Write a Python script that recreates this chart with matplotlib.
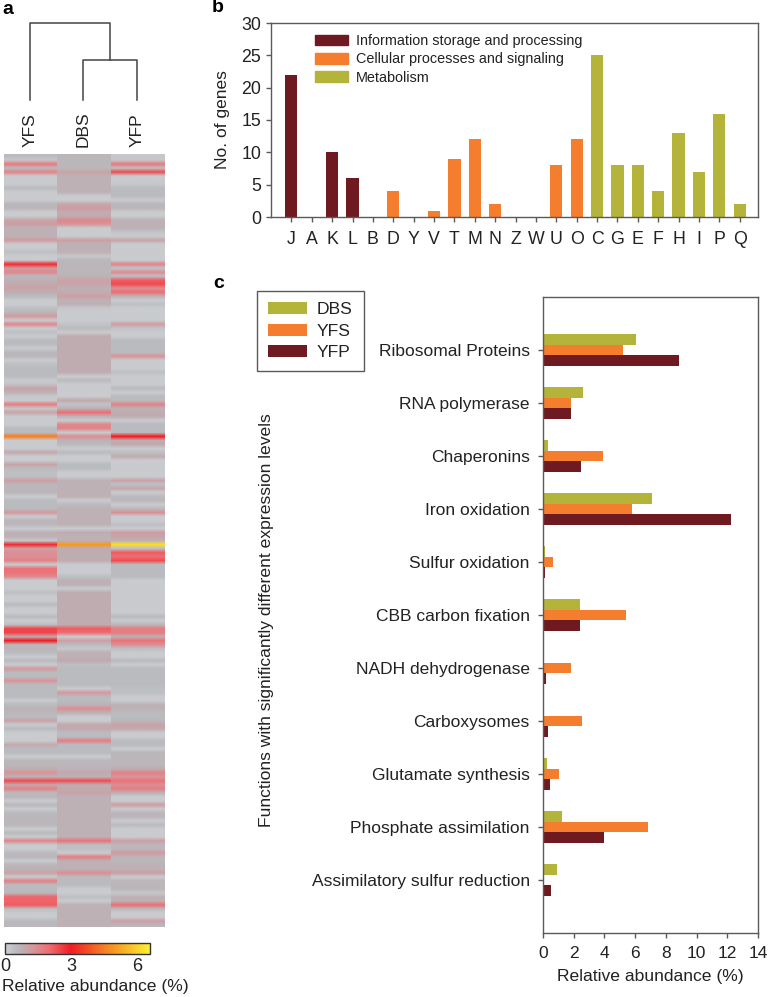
"""Three panels: expression heatmap with dendrogram, COG counts, functional abundance bars."""

import numpy as np
import matplotlib
matplotlib.use("Agg")
import matplotlib.pyplot as plt
from matplotlib.colors import LinearSegmentedColormap
from matplotlib.patches import Patch

plt.rcParams["font.family"] = ["Liberation Sans", "DejaVu Sans"]

W, H = 768, 997
DARK = "#6f1a20"
ORANGE = "#f57e2e"
OLIVE = "#b4b43a"
EDGE = "#5a5a5a"
TEXT = "#222222"

# panel a: one value per heatmap row, top to bottom
heat_samples = ["YFS", "DBS", "YFP"]
heat_yfs = [
    .5, .2, 1.8, .5, 1.6, .1, .1, .1, .5, .1, .1, .1, .6, .6, .1, .1, 1.0, 1.1, .7, .7, .7, 1.2,
    .1, .1, .4, .1, .1, 2.8, 1.2, 1.5, .6, .7, .9, 1.0, .8, .5, .1, .1, .4, .6, 1.2, .1, 1.5, .1,
    .4, .1, .5, .5, .1, .6, .6, .1, .4, .5, .5, .5, .1, .3, 1.0, .7, .2, .1, 1.7, .2, 1.0, .1,
    .1, .1, .5, .5, 4.5, .1, .1, .1, .9, .1, .1, 1.0, .5, .4, .4, 1.1, .6, .6, .6, .1, .5, .5,
    .5, 1.2, .1, .6, .6, .1, .7, .7, .2, 2.8, 1.1, 1.4, 1.4, 1.6, .1, 1.9, 1.9, 1.5, .1, .1, .1,
    .4, .1, .1, .5, .1, .1, .5, .1, .4, 2.5, 2.5, .9, 3.0, .6, .6, .5, .1,
    .5, .1, 1.2, .5, .5, 1.3, .5, .5, .5, .5, .1, .5, .7, .6, .5, 1.0, .1, .5, .1, .1, .1, .9,
    .5, .5, .1, .6, .6, .8, 1.3, .7, 2.4, .9, 1.6, .5, .6, .1, .6, .1, .5, .6, .6, .6, .1, .5,
    .1, 1.6, .1, .1, .5, .6, .1, .6, .7, 1.0, .1, 1.7, .5, .5, .6, 2.1, 2.1, 2.2, .4, .1, .1,
    .5, .6,
]
heat_dbs = [
    .6, .6, .6, .6, 1.0, .7, .7, .7, .7, .7, .1, .1, .9, 1.2, .8, .8, 1.5, 1.3, .1, .1, .1, 1.1,
    .7, .7, .7, .2, .6, .6, .6, .6, .7, 1.0, 1.0, .7, .8, 1.1, .7, .7, .2, .1, .1, .1, .3, .5,
    .1, .8, .8, .8, .8, .8, .8, .8, .8, .8, .8, .1, .5, .1, .1, .1, .1, .9, .3, .7, 2.0, .7,
    .1, 1.5, 1.6, .1, 1.4, .7, .5, .1, .5, .1, .1, .5, .5, .1, .1, .7, .7, .7, .7, .7, .1, .5,
    .7, .7, .7, .7, .7, .1, .8, .7, .7, 5.0, .8, .8, .8, .8, .1, .1, .1, .4, .7, .7, .1, .8, .8,
    .8, .8, .8, .8, .8, .8, .8, 2.2, 2.0, .1, 1.1, .5, .2, .7, .7,
    .9, .4, .5, .5, .5, .5, .5, .1, 1.2, .5, .5, .7, 1.4, .7, .1, .1, .9, .9, .5, .5, 1.7, .5,
    .5, .5, .1, .6, .6, .7, .9, .7, 2.4, .8, .9, 1.0, .7, .7, .7, .7, .7, .7, .7, .7, .7, .7,
    .7, 1.9, .4, .4, .1, 1.7, .7, .7, .7, 1.4, .5, .5, .5, .1, .1, .4, .1, .7, .7, .7, .7, .7,
    .7,
]
heat_yfp = [
    .2, .2, 1.8, .4, 2.4, .1, .1, .2, .5, .5, .5, .1, .6, .6, .1, .1, .7, .7, .7, .3, .1, 1.0,
    .1, .1, .1, .1, .1, 1.6, .3, 1.4, .4, 2.2, 2.4, 1.4, 2.0, .7, .1, .4, .1, .1, .1, .1, 1.1, .3,
    .1, .1, .5, .5, .5, .5, 1.3, .1, .1, .1, .4, .1, .1, .1, .5, .1, .5, .5, 1.6, .7, .8, .8,
    .1, .5, .5, .5, 3.0, .8, .9, .1, .4, .8, .1, .1, .1, .1, .1, 1.0, .4, .9, .1, .5, .6, .1,
    .5, 1.4, .1, .1, .4, .1, 1.1, 1.0, .7, 6.2, .4, 2.2, 2.0, 2.4, .5, .5, .5, .5, .1, .1, .1,
    .1, .1, .1, .1, .1, .1, .5, .1, .6, 1.7, 1.7, .8, 1.9, 1.4, .4, .1, .1,
    .5, .1, .5, .5, .5, .5, .5, .4, .4, .1, .1, .7, .7, .5, .5, .6, 1.0, .9, .1, .1, .5, .5,
    .1, .6, .6, .6, .6, .8, 1.6, 1.3, 1.9, 1.4, 1.7, .7, .1, .1, 1.1, .1, .6, .6, .1, .5, .1, .1,
    .1, 1.1, .6, .6, 1.2, .6, .6, .7, .7, 1.1, .1, .6, .6, .6, .2, .7, .7, 2.0, .5, .1, .1,
    1.1, .6,
]
heat_ticks = [0, 3, 6]
heat_max = 6.6

# panel b
cog_letters = list("JAKLBDYVTMNZWUOCGEFHIPQ")
cog_counts = [22, 0, 10, 6, 0, 4, 0, 1, 9, 12, 2, 0, 0, 8, 12, 25, 8, 8, 4, 13, 7, 16, 2]
cog_groups = [0, 0, 0, 0, 0, 1, 1, 1, 1, 1, 1, 1, 1, 1, 1, 2, 2, 2, 2, 2, 2, 2, 2]
group_names = ["Information storage and processing", "Cellular processes and signaling", "Metabolism"]

# panel c
functions = [
    "Ribosomal Proteins", "RNA polymerase", "Chaperonins", "Iron oxidation", "Sulfur oxidation",
    "CBB carbon fixation", "NADH dehydrogenase", "Carboxysomes", "Glutamate synthesis",
    "Phosphate assimilation", "Assimilatory sulfur reduction",
]
abund_dbs = [6.03, 2.58, 0.33, 7.07, 0.10, 2.39, 0.03, 0.05, 0.28, 1.23, 0.92]
abund_yfs = [5.18, 1.80, 3.92, 5.79, 0.64, 5.41, 1.82, 2.55, 1.02, 6.83, 0.0]
abund_yfp = [8.87, 1.80, 2.48, 12.22, 0.15, 2.41, 0.20, 0.30, 0.45, 3.95, 0.52]


def px_axes(fig, left, top, right, bottom):
    """Axes placed by pixel box, y measured from the top of the image."""
    return fig.add_axes([left / W, 1 - bottom / H, (right - left) / W, (bottom - top) / H])


def style_box(ax):
    for s in ax.spines.values():
        s.set_color(EDGE)
        s.set_linewidth(1.0)
    ax.tick_params(colors=EDGE, labelcolor=TEXT, width=1.0, length=3.5)


fig = plt.figure(figsize=(W / 100, H / 100), dpi=100)

# ---- panel a
cmap = LinearSegmentedColormap.from_list("abund", [
    (0.0, "#c9cbce"), (0.1 / heat_max, "#c9cbce"), (0.5 / heat_max, "#babbbf"), (0.8 / heat_max, "#bfadb1"),
    (1.3 / heat_max, "#d89499"), (2.0 / heat_max, "#ee6d72"), (3.0 / heat_max, "#f01c22"),
    (4.5 / heat_max, "#f57d25"), (5.2 / heat_max, "#f7a521"), (1.0, "#fdf032"),
])
ax = px_axes(fig, 3.5, 154, 164, 927)
n_rows = len(heat_yfs)
# each column is its own image so rows soften but column edges stay crisp
for i, col in enumerate([heat_yfs, heat_dbs, heat_yfp]):
    im = ax.imshow(np.array(col)[:, None], cmap=cmap, vmin=0, vmax=heat_max, aspect="auto",
                   extent=(i, i + 1, n_rows, 0), interpolation="bilinear", interpolation_stage="rgba")
ax.set_xlim(0, 3)
ax.set_ylim(n_rows, 0)
ax.axis("off")

# dendrogram drawn on a pixel-sized overlay
over = fig.add_axes([0, 0, 1, 1], facecolor="none")
over.set_xlim(0, W)
over.set_ylim(H, 0)
over.axis("off")
over.plot([30, 30, 110, 110], [100, 23, 23, 60], color="#444444", lw=1.1)
over.plot([83, 83, 137, 137], [100, 60, 60, 100], color="#444444", lw=1.1)
for x, name in zip([30, 83, 137], heat_samples):
    over.text(x, 147, name, rotation=90, ha="center", va="bottom", fontsize=12.5, color=TEXT)
over.text(2, 10, "a", fontsize=14, fontweight="bold", va="center", color="k")
over.text(212, 8, "b", fontsize=14, fontweight="bold", va="center", color="k")
over.text(213, 283, "c", fontsize=14, fontweight="bold", va="center", color="k")

cax = px_axes(fig, 5, 943, 150, 954)
cb = fig.colorbar(im, cax=cax, orientation="horizontal")
cb.set_ticks(heat_ticks)
cb.ax.tick_params(length=0, pad=3, labelsize=13, labelcolor=TEXT)
cb.outline.set_edgecolor("#333333")
cb.outline.set_linewidth(1.0)
cb.set_label("Relative abundance (%)", fontsize=12.6, color=TEXT, labelpad=3)
cb.ax.xaxis.label.set_x(0.62)

# ---- panel b
group_colors = [DARK, ORANGE, OLIVE]
ax = px_axes(fig, 271, 23, 758, 217)
xs = np.arange(len(cog_letters))
ax.bar(xs, cog_counts, width=0.6, color=[group_colors[g] for g in cog_groups])
ax.set_xlim(-1, len(xs) - 1 + 0.9)
ax.set_ylim(0, 30)
ax.set_xticks(xs)
ax.set_xticklabels(cog_letters)
ax.set_yticks(range(0, 31, 5))
style_box(ax)
ax.tick_params(labelsize=12.8)
ax.tick_params(axis="x", pad=6.5)
ax.set_ylabel("No. of genes", fontsize=12.5, color=TEXT, labelpad=8)
ax.legend(
    [Patch(color=c) for c in group_colors], group_names, loc="upper left",
    bbox_to_anchor=(302 / W, 1 - 21 / H), bbox_transform=fig.transFigure, frameon=False,
    fontsize=10.4, labelcolor=TEXT, handlelength=2.3, handleheight=0.76,
    handletextpad=0.55, labelspacing=0.3,
)

# ---- panel c
ax = px_axes(fig, 543, 297, 758, 933)
ys = np.arange(1, len(functions) + 1)
for vals, off, col, name in zip([abund_dbs, abund_yfs, abund_yfp], [-0.2, 0, 0.2], [OLIVE, ORANGE, DARK], ["DBS", "YFS", "YFP"]):
    ax.barh(ys + off, vals, height=0.2, color=col, label=name)
ax.set_ylim(12, 0)
ax.set_xlim(0, 14)
ax.set_xticks(range(0, 15, 2))
ax.set_yticks(ys)
ax.set_yticklabels(functions)
style_box(ax)
ax.tick_params(labelsize=12.5)
ax.tick_params(axis="y", pad=6)
ax.tick_params(axis="x", pad=5.5)
ax.set_xlabel("Relative abundance (%)", fontsize=12.6, color=TEXT, labelpad=6)
over.text(266, 620, "Functions with significantly different expression levels", rotation=90,
          ha="center", va="center", fontsize=12.6, color=TEXT)
ax.legend(
    loc="upper left", bbox_to_anchor=(257 / W, 1 - 291 / H), bbox_transform=fig.transFigure,
    borderaxespad=0, fancybox=False, framealpha=1, edgecolor=EDGE, fontsize=12.6, labelcolor=TEXT,
    handlelength=2.2, handleheight=0.66, handletextpad=0.55, labelspacing=0.36, borderpad=0.65,
)

fig.savefig("out.png", dpi=100)
